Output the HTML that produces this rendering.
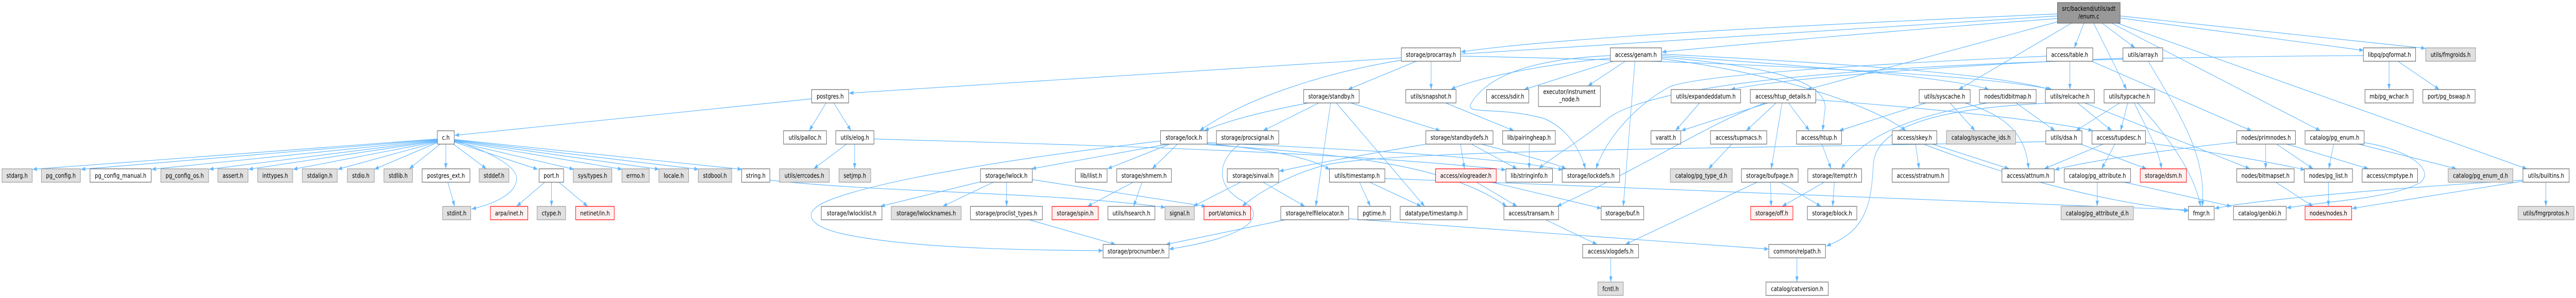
<!DOCTYPE html>
<html><head><meta charset="utf-8"><style>
html,body{margin:0;padding:0;background:#fff;width:100%;height:100%;overflow:hidden;}
svg{position:fixed;left:0;top:0;width:100vw;height:100vh;display:block;}
text{font-family:"DejaVu Sans","Liberation Sans",sans-serif;font-size:12.8px;fill:#000;text-anchor:middle;}
rect{stroke-width:1.2;}
.w{fill:#fff;stroke:#666;}
.g{fill:#e0e0e0;stroke:#999;}
.r{fill:#fff0f0;stroke:#f00;}
.k{fill:#999;stroke:#666;}
path.e{fill:none;stroke:#63b8ff;stroke-width:1.2;}
</style></head><body>
<svg viewBox="0 0 6408 579" preserveAspectRatio="none" xmlns="http://www.w3.org/2000/svg" overflow="hidden">
<defs><marker id="a" viewBox="0 0 11 8" markerWidth="11" markerHeight="8" refX="11" refY="4" orient="auto" markerUnits="userSpaceOnUse"><path d="M0,0 L11,4 L0,8 z" fill="#63b8ff"/></marker></defs>
<g marker-end="url(#a)">
<path class="e" d="M5118,31 L2112,181"/>
<path class="e" d="M5118,27 C4600,45 3900,70 3634,101"/>
<path class="e" d="M5118,36 C4700,60 4350,85 4134,101"/>
<path class="e" d="M5120,42 L4495,174"/>
<path class="e" d="M5153,45 L4872,174"/>
<path class="e" d="M5184,45 L5160,93"/>
<path class="e" d="M5208,45 L5290,174"/>
<path class="e" d="M5229,45 L5311,93"/>
<path class="e" d="M5253,45 L5772,254"/>
<path class="e" d="M5267,45 L6286,328"/>
<path class="e" d="M5274,35 L5880,98"/>
<path class="e" d="M5274,31 L6034,94"/>
<path class="e" d="M2019,192 L1131,263"/>
<path class="e" d="M2055,200 L2013,254"/>
<path class="e" d="M2074,200 L2117,254"/>
<path class="e" d="M1088,270 L81,329"/>
<path class="e" d="M1088,271 L201,329"/>
<path class="e" d="M1088,272 L377,329"/>
<path class="e" d="M1088,273 L520,329"/>
<path class="e" d="M1088,274 L618,329"/>
<path class="e" d="M1088,275 L729,329"/>
<path class="e" d="M1088,276 L840,329"/>
<path class="e" d="M1088,277 L931,329"/>
<path class="e" d="M1095,280 L1018,328"/>
<path class="e" d="M1109,280 L1109,328"/>
<path class="e" d="M1128,280 L1210,328"/>
<path class="e" d="M1130,273 C1200,290 1290,320 1285,350 C1280,380 1220,398 1173,406"/>
<path class="e" d="M1130,276 L1338,329"/>
<path class="e" d="M1130,275 L1428,329"/>
<path class="e" d="M1130,274 L1548,329"/>
<path class="e" d="M1130,273 L1640,329"/>
<path class="e" d="M1130,272 L1738,329"/>
<path class="e" d="M1130,271 L1846,329"/>
<path class="e" d="M1114,354 L1131,401"/>
<path class="e" d="M1355,354 L1285,401"/>
<path class="e" d="M1372,354 L1372,401"/>
<path class="e" d="M1390,354 L1462,401"/>
<path class="e" d="M1915,350 C2200,375 2600,372 2899,403"/>
<path class="e" d="M2106,280 L2024,328"/>
<path class="e" d="M2126,280 L2126,328"/>
<path class="e" d="M2174,270 C2600,280 3300,292 3746,330"/>
<path class="e" d="M2440,353 L2190,401"/>
<path class="e" d="M2471,354 L2345,401"/>
<path class="e" d="M2504,354 L2504,401"/>
<path class="e" d="M2568,349 L3000,401"/>
<path class="e" d="M2560,427 L2775,475"/>
<path class="e" d="M2906,280 L2566,328"/>
<path class="e" d="M2887,274 C2600,300 2200,345 2060,390 C1990,412 2010,440 2100,455 C2250,480 2500,486 2744,487"/>
<path class="e" d="M2910,280 L2755,328"/>
<path class="e" d="M2929,280 L2866,328"/>
<path class="e" d="M3003,277 C3300,288 3700,302 3888,330"/>
<path class="e" d="M3003,279 C3150,290 3260,305 3308,330"/>
<path class="e" d="M3003,281 C3350,300 3600,320 3748,401"/>
<path class="e" d="M2819,354 L2705,401"/>
<path class="e" d="M2841,354 L2820,401"/>
<path class="e" d="M3086,354 L2968,401"/>
<path class="e" d="M3142,354 L3246,401"/>
<path class="e" d="M3084,280 C3030,310 3020,360 3090,390 C3160,420 3100,462 2908,484"/>
<path class="e" d="M3198,427 L2900,475"/>
<path class="e" d="M3355,425 C3800,450 4150,472 4400,484"/>
<path class="e" d="M3486,117 C3300,140 3100,190 2984,254"/>
<path class="e" d="M3523,119 L3353,174"/>
<path class="e" d="M3560,119 L3560,174"/>
<path class="e" d="M3633,109 C4200,118 4900,140 5105,174"/>
<path class="e" d="M3256,200 C3150,215 3050,235 2996,254"/>
<path class="e" d="M3281,200 L3142,254"/>
<path class="e" d="M3310,200 L3273,401"/>
<path class="e" d="M3324,200 L3544,401"/>
<path class="e" d="M3360,200 L3583,254"/>
<path class="e" d="M3596,200 L3766,254"/>
<path class="e" d="M4006,113 C3800,128 3650,158 3609,174"/>
<path class="e" d="M4012,119 L3791,174"/>
<path class="e" d="M4006,108 C3800,115 3700,150 3660,200 C3640,225 3720,205 3840,230 C3900,250 3930,290 3944,328"/>
<path class="e" d="M4043,119 L3950,167"/>
<path class="e" d="M4067,119 L4038,401"/>
<path class="e" d="M4133,111 C4350,125 4545,150 4540,210 L4534,254"/>
<path class="e" d="M4133,114 C4400,140 4650,200 4741,254"/>
<path class="e" d="M4133,108 C4500,128 4850,150 4948,174"/>
<path class="e" d="M4133,105 C4500,120 4950,140 5100,174"/>
<path class="e" d="M5149,119 L5149,174"/>
<path class="e" d="M5203,119 L5601,254"/>
<path class="e" d="M5091,109 C4500,130 4200,150 4150,170 C4080,200 4000,260 3970,328"/>
<path class="e" d="M3633,280 L3643,328"/>
<path class="e" d="M3660,280 L3774,328"/>
<path class="e" d="M3685,280 C3780,300 3860,315 3896,328"/>
<path class="e" d="M3547,280 C3400,300 3250,320 3182,333"/>
<path class="e" d="M3804,280 L3804,328"/>
<path class="e" d="M3673,354 L3774,401"/>
<path class="e" d="M3710,354 C3800,370 3900,390 3984,405"/>
<path class="e" d="M3382,354 L3409,401"/>
<path class="e" d="M3407,354 L3536,401"/>
<path class="e" d="M3445,347 C4200,368 5000,390 5444,408"/>
<path class="e" d="M3845,427 L3973,475"/>
<path class="e" d="M4398,200 L4182,254"/>
<path class="e" d="M4391,200 C4250,240 4100,320 3873,401"/>
<path class="e" d="M4418,200 L4344,254"/>
<path class="e" d="M4433,200 L4406,328"/>
<path class="e" d="M4449,200 L4501,254"/>
<path class="e" d="M4517,194 C4800,210 5100,235 5206,254"/>
<path class="e" d="M4228,200 L4168,254"/>
<path class="e" d="M4308,280 L4250,328"/>
<path class="e" d="M4532,280 L4555,328"/>
<path class="e" d="M4563,354 L4559,401"/>
<path class="e" d="M4538,354 L4433,401"/>
<path class="e" d="M4404,354 L4406,401"/>
<path class="e" d="M4371,354 L4043,475"/>
<path class="e" d="M4429,354 L4530,401"/>
<path class="e" d="M4007,501 L4007,548"/>
<path class="e" d="M4470,501 L4470,548"/>
<path class="e" d="M4765,280 L4774,328"/>
<path class="e" d="M4807,280 L4998,328"/>
<path class="e" d="M4785,280 C4950,330 5200,390 5444,410"/>
<path class="e" d="M4791,200 L4575,254"/>
<path class="e" d="M4851,200 L4913,254"/>
<path class="e" d="M4888,200 C4990,225 5040,260 5046,328"/>
<path class="e" d="M4944,200 C4800,220 4650,250 4580,328"/>
<path class="e" d="M5015,200 L5112,254"/>
<path class="e" d="M5168,200 L5253,254"/>
<path class="e" d="M5186,200 L5597,328"/>
<path class="e" d="M5108,200 C4800,210 4665,250 4660,320 C4655,400 4640,450 4543,478"/>
<path class="e" d="M5176,280 L5340,328"/>
<path class="e" d="M5089,275 C4500,288 3500,288 3300,320 C3200,340 3120,380 3090,401"/>
<path class="e" d="M5273,200 L5164,254"/>
<path class="e" d="M5293,200 L5275,254"/>
<path class="e" d="M5309,200 C5340,250 5370,290 5377,328"/>
<path class="e" d="M5317,200 C5400,270 5460,340 5474,401"/>
<path class="e" d="M5344,119 C5420,220 5490,300 5478,401"/>
<path class="e" d="M5281,113 C4900,125 4450,150 4305,174"/>
<path class="e" d="M5261,280 L5228,328"/>
<path class="e" d="M5232,280 L5085,328"/>
<path class="e" d="M5337,277 C5500,295 5650,315 5734,330"/>
<path class="e" d="M5217,354 L5217,401"/>
<path class="e" d="M5284,354 L5551,401"/>
<path class="e" d="M5564,276 C5350,295 5180,315 5111,330"/>
<path class="e" d="M5636,280 L5636,328"/>
<path class="e" d="M5663,280 L5754,328"/>
<path class="e" d="M5688,280 L5892,328"/>
<path class="e" d="M5661,354 L5754,401"/>
<path class="e" d="M5792,354 L5792,401"/>
<path class="e" d="M5805,280 L5793,328"/>
<path class="e" d="M5867,280 L6111,328"/>
<path class="e" d="M5880,277 C5990,290 6060,330 6020,355 C5950,385 5800,390 5688,404"/>
<path class="e" d="M6333,354 L6333,401"/>
<path class="e" d="M6276,352 C6100,375 5950,392 5851,405"/>
<path class="e" d="M6276,350 C5900,368 5600,390 5509,405"/>
<path class="e" d="M5943,119 L5943,174"/>
<path class="e" d="M5965,119 L6068,174"/>
<path class="e" d="M5879,108 C5000,112 4150,140 4000,230 C3920,280 3860,305 3828,328"/>
</g>

<rect class="g" x="5" y="328" width="75" height="26"/><text x="42.5" y="345.5">stdarg.h</text>
<rect class="g" x="103" y="328" width="97" height="26"/><text x="151.5" y="345.5">pg_config.h</text>
<rect class="w" x="224" y="328" width="152" height="26"/><text x="300" y="345.5">pg_config_manual.h</text>
<rect class="g" x="400" y="328" width="119" height="26"/><text x="459.5" y="345.5">pg_config_os.h</text>
<rect class="g" x="542" y="328" width="75" height="26"/><text x="579.5" y="345.5">assert.h</text>
<rect class="g" x="641" y="328" width="87" height="26"/><text x="684.5" y="345.5">inttypes.h</text>
<rect class="g" x="752" y="328" width="87" height="26"/><text x="795.5" y="345.5">stdalign.h</text>
<rect class="g" x="864" y="328" width="67" height="26"/><text x="897.5" y="345.5">stdio.h</text>
<rect class="g" x="955" y="328" width="71" height="26"/><text x="990.5" y="345.5">stdlib.h</text>
<rect class="w" x="1050" y="328" width="119" height="26"/><text x="1109.5" y="345.5">postgres_ext.h</text>
<rect class="g" x="1192" y="328" width="74" height="26"/><text x="1229" y="345.5">stddef.h</text>
<rect class="w" x="1088" y="254" width="42" height="26"/><text x="1109" y="271.5">c.h</text>
<rect class="g" x="1101" y="401" width="70" height="26"/><text x="1136" y="418.5">stdint.h</text>
<rect class="r" x="1220" y="401" width="93" height="26"/><text x="1266.5" y="418.5">arpa/inet.h</text>
<rect class="w" x="1341" y="328" width="61" height="26"/><text x="1371.5" y="345.5">port.h</text>
<rect class="g" x="1426" y="328" width="96" height="26"/><text x="1474" y="345.5">sys/types.h</text>
<rect class="g" x="1547" y="328" width="68" height="26"/><text x="1581" y="345.5">errno.h</text>
<rect class="g" x="1639" y="328" width="74" height="26"/><text x="1676" y="345.5">locale.h</text>
<rect class="g" x="1737" y="328" width="83" height="26"/><text x="1778.5" y="345.5">stdbool.h</text>
<rect class="w" x="1845" y="328" width="70" height="26"/><text x="1880" y="345.5">string.h</text>
<rect class="g" x="1336" y="401" width="71" height="26"/><text x="1371.5" y="418.5">ctype.h</text>
<rect class="r" x="1432" y="401" width="96" height="26"/><text x="1480" y="418.5">netinet/in.h</text>
<rect class="w" x="2019" y="174" width="92" height="26"/><text x="2065" y="191.5">postgres.h</text>
<rect class="w" x="1949" y="254" width="107" height="26"/><text x="2002.5" y="271.5">utils/palloc.h</text>
<rect class="w" x="2079" y="254" width="95" height="26"/><text x="2126.5" y="271.5">utils/elog.h</text>
<rect class="g" x="1939" y="328" width="124" height="26"/><text x="2001" y="345.5">utils/errcodes.h</text>
<rect class="g" x="2087" y="328" width="79" height="26"/><text x="2126.5" y="345.5">setjmp.h</text>
<rect class="w" x="2439" y="328" width="129" height="26"/><text x="2503.5" y="345.5">storage/lwlock.h</text>
<rect class="w" x="2043" y="401" width="151" height="26"/><text x="2118.5" y="418.5">storage/lwlocklist.h</text>
<rect class="g" x="2217" y="401" width="174" height="26"/><text x="2304" y="418.5">storage/lwlocknames.h</text>
<rect class="w" x="2414" y="401" width="179" height="26"/><text x="2503.5" y="418.5">storage/proclist_types.h</text>
<rect class="w" x="2887" y="254" width="116" height="26"/><text x="2945" y="271.5">storage/lock.h</text>
<rect class="w" x="3026" y="254" width="155" height="26"/><text x="3103.5" y="271.5">storage/procsignal.h</text>
<rect class="w" x="2675" y="328" width="79" height="26"/><text x="2714.5" y="345.5">lib/ilist.h</text>
<rect class="w" x="2778" y="328" width="136" height="26"/><text x="2846" y="345.5">storage/shmem.h</text>
<rect class="w" x="3053" y="328" width="128" height="26"/><text x="3117" y="345.5">storage/sinval.h</text>
<rect class="r" x="2617" y="401" width="115" height="26"/><text x="2674.5" y="418.5">storage/spin.h</text>
<rect class="w" x="2756" y="401" width="117" height="26"/><text x="2814.5" y="418.5">utils/hsearch.h</text>
<rect class="g" x="2898" y="401" width="73" height="26"/><text x="2934.5" y="418.5">signal.h</text>
<rect class="r" x="2995" y="401" width="116" height="26"/><text x="3053" y="418.5">port/atomics.h</text>
<rect class="w" x="3186" y="401" width="169" height="26"/><text x="3270.5" y="418.5">storage/relfilelocator.h</text>
<rect class="w" x="2744" y="475" width="164" height="26"/><text x="2826" y="492.5">storage/procnumber.h</text>
<rect class="w" x="3486" y="93" width="147" height="26"/><text x="3559.5" y="110.5">storage/procarray.h</text>
<rect class="w" x="3243" y="174" width="138" height="26"/><text x="3312" y="191.5">storage/standby.h</text>
<rect class="w" x="3497" y="174" width="125" height="26"/><text x="3559.5" y="191.5">utils/snapshot.h</text>
<rect class="w" x="3698" y="174" width="105" height="26"/><text x="3750.5" y="191.5">access/sdir.h</text>
<rect class="w" x="3827" y="167" width="154" height="40"/><text x="3904" y="182.5">executor/instrument</text><text x="3904" y="197">_node.h</text>
<rect class="w" x="3547" y="254" width="167" height="26"/><text x="3630.5" y="271.5">storage/standbydefs.h</text>
<rect class="w" x="3738" y="254" width="131" height="26"/><text x="3803.5" y="271.5">lib/pairingheap.h</text>
<rect class="w" x="3307" y="328" width="138" height="26"/><text x="3376" y="345.5">utils/timestamp.h</text>
<rect class="r" x="3571" y="328" width="151" height="26"/><text x="3646.5" y="345.5">access/xlogreader.h</text>
<rect class="w" x="3746" y="328" width="116" height="26"/><text x="3804" y="345.5">lib/stringinfo.h</text>
<rect class="w" x="3378" y="401" width="81" height="26"/><text x="3418.5" y="418.5">pgtime.h</text>
<rect class="w" x="3483" y="401" width="167" height="26"/><text x="3566.5" y="418.5">datatype/timestamp.h</text>
<rect class="w" x="3741" y="401" width="136" height="26"/><text x="3809" y="418.5">access/transam.h</text>
<rect class="w" x="4006" y="93" width="127" height="26"/><text x="4069.5" y="110.5">access/genam.h</text>
<rect class="w" x="4157" y="174" width="173" height="26"/><text x="4243.5" y="191.5">utils/expandeddatum.h</text>
<rect class="w" x="4354" y="174" width="163" height="26"/><text x="4435.5" y="191.5">access/htup_details.h</text>
<rect class="w" x="4107" y="254" width="74" height="26"/><text x="4144" y="271.5">varatt.h</text>
<rect class="w" x="4255" y="254" width="140" height="26"/><text x="4325" y="271.5">access/tupmacs.h</text>
<rect class="w" x="4469" y="254" width="112" height="26"/><text x="4525" y="271.5">access/htup.h</text>
<rect class="w" x="3886" y="328" width="143" height="26"/><text x="3957.5" y="345.5">storage/lockdefs.h</text>
<rect class="g" x="4155" y="328" width="154" height="26"/><text x="4232" y="345.5">catalog/pg_type_d.h</text>
<rect class="w" x="4332" y="328" width="141" height="26"/><text x="4402.5" y="345.5">storage/bufpage.h</text>
<rect class="w" x="3983" y="401" width="106" height="26"/><text x="4036" y="418.5">storage/buf.h</text>
<rect class="r" x="4355" y="401" width="105" height="26"/><text x="4407.5" y="418.5">storage/off.h</text>
<rect class="w" x="3937" y="475" width="139" height="26"/><text x="4006.5" y="492.5">access/xlogdefs.h</text>
<rect class="w" x="4400" y="475" width="141" height="26"/><text x="4470.5" y="492.5">common/relpath.h</text>
<rect class="g" x="3975" y="548" width="63" height="26"/><text x="4006.5" y="565.5">fcntl.h</text>
<rect class="w" x="4393" y="548" width="155" height="26"/><text x="4470.5" y="565.5">catalog/catversion.h</text>
<rect class="k" x="5118" y="5" width="156" height="40"/><text x="5196" y="21">src/backend/utils/adt</text><text x="5196" y="36">/enum.c</text>
<rect class="w" x="5091" y="93" width="115" height="26"/><text x="5148.5" y="110.5">access/table.h</text>
<rect class="w" x="4774" y="174" width="127" height="26"/><text x="4837.5" y="191.5">utils/syscache.h</text>
<rect class="w" x="4924" y="174" width="141" height="26"/><text x="4994.5" y="191.5">nodes/tidbitmap.h</text>
<rect class="w" x="5088" y="174" width="122" height="26"/><text x="5149" y="191.5">utils/relcache.h</text>
<rect class="w" x="4707" y="254" width="111" height="26"/><text x="4762.5" y="271.5">access/skey.h</text>
<rect class="g" x="4842" y="254" width="172" height="26"/><text x="4928" y="271.5">catalog/syscache_ids.h</text>
<rect class="w" x="5089" y="254" width="90" height="26"/><text x="5134" y="271.5">utils/dsa.h</text>
<rect class="w" x="4497" y="328" width="134" height="26"/><text x="4564" y="345.5">storage/itemptr.h</text>
<rect class="w" x="4707" y="328" width="141" height="26"/><text x="4777.5" y="345.5">access/stratnum.h</text>
<rect class="w" x="4980" y="328" width="130" height="26"/><text x="5045" y="345.5">access/attnum.h</text>
<rect class="w" x="4496" y="401" width="123" height="26"/><text x="4557.5" y="418.5">storage/block.h</text>
<rect class="g" x="5127" y="401" width="180" height="26"/><text x="5217" y="418.5">catalog/pg_attribute_d.h</text>
<rect class="w" x="5281" y="93" width="99" height="26"/><text x="5330.5" y="110.5">utils/array.h</text>
<rect class="w" x="5234" y="174" width="126" height="26"/><text x="5297" y="191.5">utils/typcache.h</text>
<rect class="w" x="5204" y="254" width="133" height="26"/><text x="5270.5" y="271.5">access/tupdesc.h</text>
<rect class="w" x="5564" y="254" width="146" height="26"/><text x="5637" y="271.5">nodes/primnodes.h</text>
<rect class="w" x="5734" y="254" width="147" height="26"/><text x="5807.5" y="271.5">catalog/pg_enum.h</text>
<rect class="w" x="5135" y="328" width="165" height="26"/><text x="5217.5" y="345.5">catalog/pg_attribute.h</text>
<rect class="r" x="5324" y="328" width="115" height="26"/><text x="5381.5" y="345.5">storage/dsm.h</text>
<rect class="w" x="5564" y="328" width="143" height="26"/><text x="5635.5" y="345.5">nodes/bitmapset.h</text>
<rect class="w" x="5732" y="328" width="120" height="26"/><text x="5792" y="345.5">nodes/pg_list.h</text>
<rect class="w" x="5444" y="401" width="64" height="26"/><text x="5476" y="418.5">fmgr.h</text>
<rect class="w" x="5556" y="401" width="131" height="26"/><text x="5621.5" y="418.5">catalog/genbki.h</text>
<rect class="r" x="5734" y="401" width="116" height="26"/><text x="5792" y="418.5">nodes/nodes.h</text>
<rect class="w" x="5879" y="93" width="130" height="26"/><text x="5944" y="110.5">libpq/pqformat.h</text>
<rect class="g" x="6034" y="93" width="124" height="26"/><text x="6096" y="110.5">utils/fmgroids.h</text>
<rect class="w" x="5883" y="174" width="120" height="26"/><text x="5943" y="191.5">mb/pg_wchar.h</text>
<rect class="w" x="6027" y="174" width="130" height="26"/><text x="6092" y="191.5">port/pg_bswap.h</text>
<rect class="w" x="5876" y="328" width="138" height="26"/><text x="5945" y="345.5">access/cmptype.h</text>
<rect class="g" x="6090" y="328" width="161" height="26"/><text x="6170.5" y="345.5">catalog/pg_enum_d.h</text>
<rect class="w" x="6276" y="328" width="115" height="26"/><text x="6333.5" y="345.5">utils/builtins.h</text>
<rect class="g" x="6264" y="401" width="139" height="26"/><text x="6333.5" y="418.5">utils/fmgrprotos.h</text>
</svg>
</body></html>
